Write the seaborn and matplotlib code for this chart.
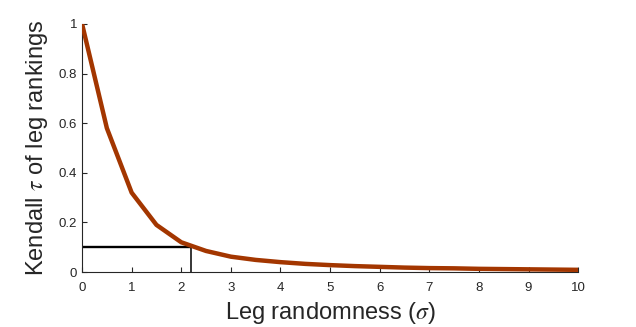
import matplotlib
matplotlib.use("Agg")
import matplotlib.pyplot as plt
import seaborn as sns
import pandas as pd

# Leg randomness (sigma) and Kendall tau between leg rankings
sigma = [0.0, 0.5, 1.0, 1.5, 2.0, 2.5, 3.0, 3.5, 4.0, 4.5, 5.0,
         5.5, 6.0, 6.5, 7.0, 7.5, 8.0, 8.5, 9.0, 9.5, 10.0]
tau = [1.0, 0.58, 0.32, 0.19, 0.12, 0.085, 0.062, 0.049, 0.040, 0.033, 0.028,
       0.024, 0.021, 0.018, 0.016, 0.015, 0.013, 0.012, 0.011, 0.010, 0.009]

# Threshold marker: tau = 0.1 reached at sigma = 2.2
thr_tau = 0.1
thr_sigma = 2.2

sns.set_style("ticks")
plt.rcParams["font.family"] = ["Liberation Sans", "DejaVu Sans"]
plt.rcParams["mathtext.fontset"] = "stix"

df = pd.DataFrame({"sigma": sigma, "tau": tau})

fig = plt.figure(figsize=(6.36, 3.27), dpi=100)
ax = fig.add_axes([0.129, 0.168, 0.78, 0.759])

sns.lineplot(data=df, x="sigma", y="tau", ax=ax, color="#a33600",
             linewidth=3.2, zorder=3)

ax.plot([0, thr_sigma], [thr_tau, thr_tau], color="black", linewidth=1.7, zorder=2)
ax.plot([thr_sigma, thr_sigma], [0, thr_tau], color="black", linewidth=1.1, zorder=2)

ax.set_xlim(0, 10)
ax.set_ylim(0, 1)
ax.set_xticks(range(0, 11))
ax.set_yticks([0, 0.2, 0.4, 0.6, 0.8, 1])
ax.set_yticklabels(["0", "0.2", "0.4", "0.6", "0.8", "1"])

for side in ("top", "right"):
    ax.spines[side].set_visible(False)
for side in ("left", "bottom"):
    ax.spines[side].set_color("#262626")
    ax.spines[side].set_linewidth(0.8)

ax.tick_params(direction="in", length=3.5, width=0.8, colors="#262626",
               labelsize=9.5)
ax.tick_params(axis="x", pad=7.5)
ax.tick_params(axis="y", pad=3.5)

ax.set_xlabel(r"Leg randomness ($\sigma$)", fontsize=17, color="#262626", labelpad=4)
ax.set_ylabel(r"Kendall $\tau$ of leg rankings", fontsize=17, color="#262626", labelpad=6)

fig.savefig("out.png", dpi=100)
